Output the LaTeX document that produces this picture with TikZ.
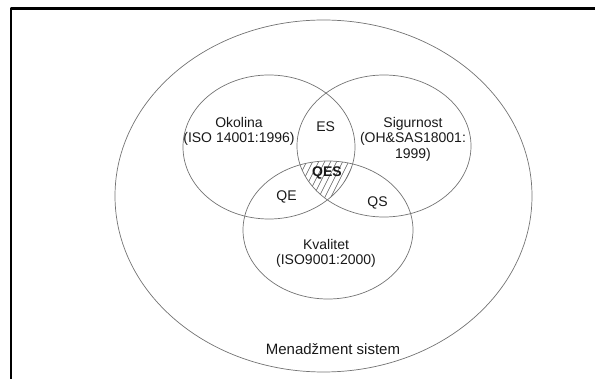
\documentclass[tikz,border=0pt]{standalone}
\usepackage{fontspec}
\setmainfont{Liberation Sans}
\begin{document}
\begin{tikzpicture}[x=1pt,y=-1pt, font=\fontsize{14}{15.5}\selectfont, line join=round, line cap=round,
	set/.style={draw=black!55, line width=0.7pt},
	hatch/.style={draw=black!65, line width=0.6pt},
	lbl/.style={inner sep=0pt, align=center, text=black!90}]
	\useasboundingbox (0,0) rectangle (595,379);
	\path
	(269,147)coordinate(O)
	(384,146)coordinate(S)
	(328,230)coordinate(K)
	(323.5,196)coordinate(M)
	;
	% frame
	\draw[line width=2.4pt] (11.2,380)--(11.2,8.7)--(596,8.7);
	% hatched QES region
	\begin{scope}
		\clip (O) ellipse[x radius=86pt, y radius=72pt];
		\clip (S) ellipse[x radius=87pt, y radius=71pt];
		\clip (K) ellipse[x radius=85pt, y radius=69pt];
		\foreach \x in {250,256,...,370} \draw[hatch] (\x,215)--++(50,-100);
	\end{scope}
	\draw[set] (M) ellipse[x radius=208.5pt, y radius=176pt];
	\foreach \c/\rx/\ry in {O/86/72,S/87/71,K/85/69} \draw[set] (\c) ellipse[x radius=\rx pt, y radius=\ry pt];
	\node[lbl] (okolina) at (239,131.5) {Okolina\\(ISO 14001:1996)};
	\node[lbl] (sigurnost) at (413,139) {Sigurnost\\(OH\&SAS18001:\\1999)};
	\node[lbl] (kvalitet) at (326,253.5) {Kvalitet\\(ISO9001:2000)};
	\node[lbl] (es) at (325.6,126.7) {ES};
	\node[lbl, font=\fontsize{14}{15.5}\selectfont\bfseries] (qes) at (327,173.3) {QES};
	\node[lbl] (qe) at (286.5,196.7) {QE};
	\node[lbl] (qs) at (377.6,203.3) {QS};
	\node[lbl, font=\fontsize{15}{17}\selectfont] (menadzment) at (333,349.3) {Menadžment sistem};
\end{tikzpicture}
\end{document}
